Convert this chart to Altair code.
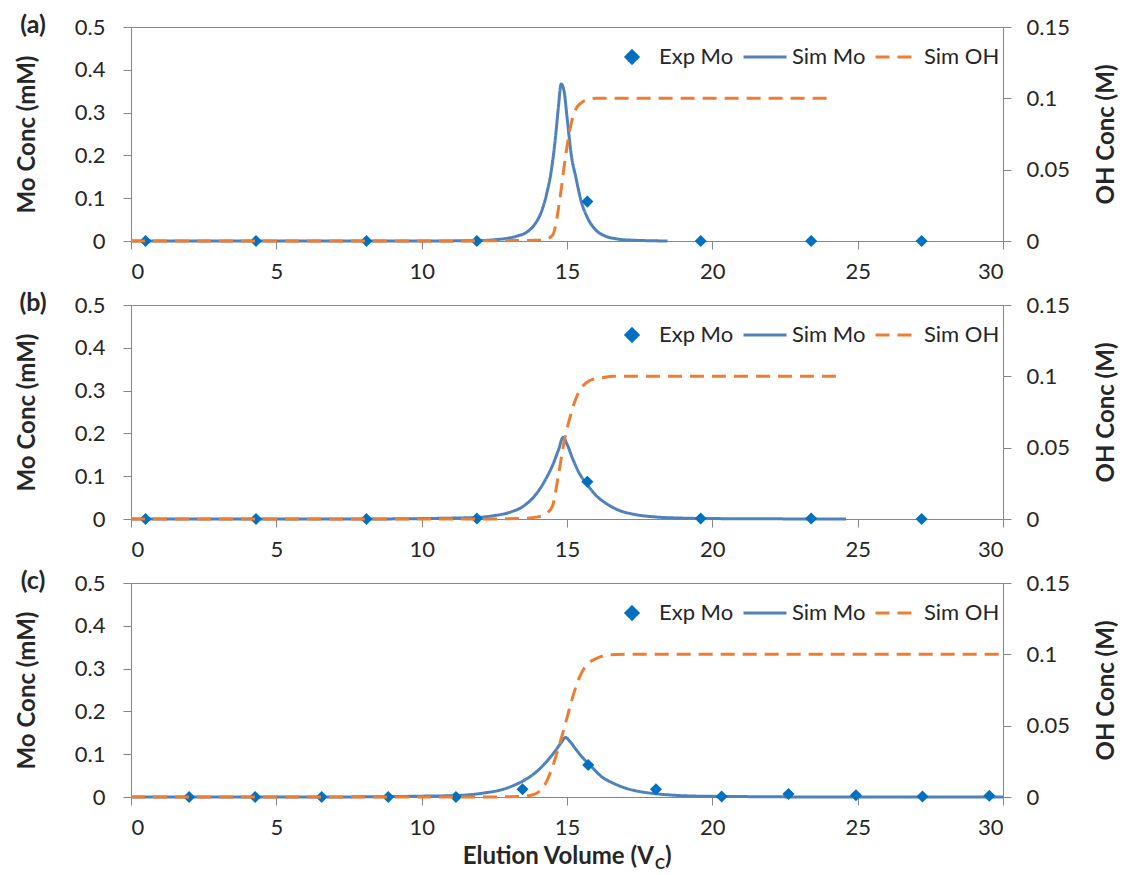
import altair as alt
import pandas as pd

SERIES = ["Exp Mo", "Sim Mo", "Sim OH"]
COLORS = ["#0070C0", "#4F81BD", "#ED7D31"]
DIAMOND = "M-0.28,0L0,-0.28L0.28,0L0,0.28Z"
SHAPES = [DIAMOND, "stroke", "stroke"]
DASHES = [[1, 0], [1, 0], [14, 8]]
X_TICKS = [0, 5, 10, 15, 20, 25, 30]
MO_TICKS = [0, 0.1, 0.2, 0.3, 0.4, 0.5]
OH_TICKS = [0, 0.05, 0.1, 0.15]

# ---------------- Panel (a) ----------------
a_exp_x = [0.5, 4.3, 8.1, 11.9, 15.7, 19.6, 23.4, 27.2]
a_exp_y = [0, 0, 0, 0, 0.092, 0, 0, 0]
a_mo_x = [0, 5, 10, 12, 12.5, 13, 13.3, 13.6, 13.9, 14.1, 14.3, 14.45, 14.6, 14.7,
          14.8, 14.9, 15.0, 15.15, 15.3, 15.5, 15.7, 16.0, 16.3, 16.7, 17.2, 18.46]
a_mo_y = [0, 0, 0, 0.001, 0.003, 0.007, 0.012, 0.02, 0.04, 0.065, 0.11, 0.16, 0.24, 0.31,
          0.367, 0.35, 0.29, 0.2, 0.15, 0.09, 0.055, 0.025, 0.012, 0.005, 0.002, 0.0]
a_oh_x = [0, 10, 14.0, 14.3, 14.5, 14.6, 14.7, 14.8, 14.9, 15.0, 15.1, 15.2, 15.35,
          15.5, 15.7, 16.0, 16.5, 24]
a_oh_y = [0, 0, 0.0005, 0.0015, 0.004, 0.01, 0.022, 0.036, 0.052, 0.066, 0.078, 0.087,
          0.094, 0.097, 0.099, 0.1, 0.1, 0.1]

# ---------------- Panel (b) ----------------
b_exp_x = [0.5, 4.3, 8.1, 11.9, 15.7, 19.6, 23.4, 27.2]
b_exp_y = [0, 0, 0, 0.001, 0.087, 0.001, 0.001, 0]
b_mo_x = [0, 8, 10, 11, 12, 12.5, 13, 13.5, 13.9, 14.2, 14.5, 14.7, 14.87, 15.0, 15.2,
          15.4, 15.7, 16.0, 16.4, 16.8, 17.3, 18, 19, 20, 24.6]
b_mo_y = [0, 0, 0.001, 0.002, 0.004, 0.008, 0.015, 0.03, 0.055, 0.085, 0.125, 0.16, 0.191,
          0.175, 0.14, 0.11, 0.08, 0.055, 0.034, 0.02, 0.011, 0.005, 0.002, 0.001, 0]
b_oh_x = [0, 12, 13.5, 14.0, 14.3, 14.5, 14.7, 14.9, 15.1, 15.3, 15.5, 15.7, 15.9, 16.2,
          16.6, 17, 24.25]
b_oh_y = [0, 0, 0.0005, 0.0015, 0.004, 0.009, 0.03, 0.054, 0.071, 0.084, 0.092, 0.096,
          0.098, 0.099, 0.1, 0.1, 0.1]

# ---------------- Panel (c) ----------------
c_exp_x = [2.0, 4.27, 6.56, 8.85, 11.18, 13.47, 15.73, 18.06, 20.32, 22.62, 24.94, 27.23, 29.53]
c_exp_y = [0, 0, 0, 0, 0, 0.018, 0.075, 0.018, 0.001, 0.007, 0.004, 0.001, 0.003]
c_mo_x = [0, 6, 9, 10, 11, 11.6, 12.2, 12.7, 13.2, 13.6, 14.0, 14.3, 14.6, 14.8, 14.95,
          15.1, 15.3, 15.5, 15.8, 16.2, 16.6, 17.0, 17.4, 18.0, 18.7, 19.5, 21, 24, 30]
c_mo_y = [0, 0, 0.001, 0.002, 0.003, 0.005, 0.01, 0.016, 0.028, 0.042, 0.062, 0.083, 0.108,
          0.127, 0.139, 0.13, 0.112, 0.095, 0.074, 0.047, 0.032, 0.021, 0.014, 0.008, 0.004,
          0.002, 0.001, 0, 0]
c_oh_x = [0, 12, 13.5, 13.9, 14.1, 14.3, 14.5, 14.7, 14.9, 15.1, 15.3, 15.5, 15.7, 16.0,
          16.4, 17, 30]
c_oh_y = [0, 0, 0.0005, 0.002, 0.005, 0.011, 0.021, 0.034, 0.048, 0.063, 0.077, 0.087,
          0.093, 0.097, 0.0995, 0.1, 0.1]

FONT = "Lato"
TXT = "#262626"
AX = "#868686"
W, H = 872, 214
SYM = 1849  # symbol area: 43 px long legend lines


def make_legend():
    return alt.Legend(
        title=None, orient="none", direction="horizontal",
        legendX=478, legendY=19, padding=0, clipHeight=22,
        labelFont=FONT, labelFontSize=22, labelColor=TXT, labelOffset=4,
        columnPadding=8, symbolSize=SYM, symbolStrokeWidth=3, symbolOpacity=1,
    )


color = alt.Color("series:N", scale=alt.Scale(domain=SERIES, range=COLORS), legend=make_legend())
shape = alt.Shape("series:N", scale=alt.Scale(domain=SERIES, range=SHAPES), legend=make_legend())
dash = alt.StrokeDash("series:N", scale=alt.Scale(domain=SERIES, range=DASHES), legend=make_legend())

xaxis = alt.Axis(values=X_TICKS, format="d", title=None, grid=False,
                 labelFont=FONT, labelFontSize=22, labelColor=TXT, labelPadding=12,
                 tickSize=8, tickColor=AX, domainColor=AX)
ylaxis = alt.Axis(values=MO_TICKS, format=".1~f", title="Mo Conc (mM)", grid=False,
                  labelFont=FONT, labelFontSize=22, labelColor=TXT, labelPadding=18,
                  tickSize=8, tickColor=AX, domainColor=AX,
                  titleFont=FONT, titleFontSize=24, titleFontWeight="bold", titleColor=TXT,
                  titlePadding=35)
yraxis = alt.Axis(values=OH_TICKS, format=".2~f", title="OH Conc (M)", grid=False, orient="right",
                  labelFont=FONT, labelFontSize=22, labelColor=TXT, labelPadding=15,
                  tickSize=8, tickColor=AX, domainColor=AX,
                  titleFont=FONT, titleFontSize=24, titleFontWeight="bold", titleColor=TXT,
                  titleAngle=270, titleBaseline="top", titlePadding=25)

xscale = alt.Scale(domain=[0, 30], nice=False)
moscale = alt.Scale(domain=[0, 0.5], nice=False)
ohscale = alt.Scale(domain=[0, 0.15], nice=False)


def panel(label, ex, ey, mx, my, ox, oy, bottom=False):
    exp_df = pd.DataFrame({"x": ex, "y": ey, "series": "Exp Mo"})
    mo_df = pd.DataFrame({"x": mx, "y": my, "series": "Sim Mo"})
    oh_df = pd.DataFrame({"x": ox, "y": oy, "series": "Sim OH"})

    mo_line = alt.Chart(mo_df).mark_line(strokeWidth=3, interpolate="monotone").encode(
        x=alt.X("x:Q", scale=xscale, axis=xaxis),
        y=alt.Y("y:Q", scale=moscale, axis=ylaxis),
        color=color, strokeDash=dash,
    )
    pts = alt.Chart(exp_df).mark_point(filled=True, opacity=1, size=SYM).encode(
        x=alt.X("x:Q", scale=xscale, axis=xaxis),
        y=alt.Y("y:Q", scale=moscale, axis=ylaxis),
        color=color, shape=shape,
    )
    oh_line = alt.Chart(oh_df).mark_line(strokeWidth=3, interpolate="monotone").encode(
        x=alt.X("x:Q", scale=xscale, axis=xaxis),
        y=alt.Y("y:Q", scale=ohscale, axis=yraxis),
        color=color, strokeDash=dash,
    )
    lab = alt.Chart(pd.DataFrame({"t": [label]})).mark_text(
        font=FONT, fontSize=25, fontWeight="bold", color=TXT, align="center", baseline="middle"
    ).encode(x=alt.value(-98), y=alt.value(-2), text="t:N")
    layers = [alt.layer(mo_line, pts), oh_line, lab]
    if bottom:
        tdf = pd.DataFrame({"t": ["Elution Volume (V"], "s": ["C"], "p": [")"]})
        base = alt.Chart(tdf)
        t1 = base.mark_text(font=FONT, fontSize=24, fontWeight="bold", color=TXT,
                            align="right", baseline="middle").encode(
            x=alt.value(523), y=alt.value(274), text="t:N")
        t2 = base.mark_text(font=FONT, fontSize=15, fontWeight="bold", color=TXT,
                            align="left", baseline="middle").encode(
            x=alt.value(524), y=alt.value(281), text="s:N")
        t3 = base.mark_text(font=FONT, fontSize=24, fontWeight="bold", color=TXT,
                            align="left", baseline="middle").encode(
            x=alt.value(534), y=alt.value(274), text="p:N")
        layers += [t1, t2, t3]
    return alt.layer(*layers).resolve_scale(y="independent").properties(width=W, height=H)


chart = alt.vconcat(
    panel("(a)", a_exp_x, a_exp_y, a_mo_x, a_mo_y, a_oh_x, a_oh_y),
    panel("(b)", b_exp_x, b_exp_y, b_mo_x, b_mo_y, b_oh_x, b_oh_y),
    panel("(c)", c_exp_x, c_exp_y, c_mo_x, c_mo_y, c_oh_x, c_oh_y, bottom=True),
    spacing=64, bounds="flush",
).resolve_legend(
    color="independent", shape="independent", strokeDash="independent"
).properties(
    padding={"left": 14, "top": 12, "right": 2, "bottom": 5},
    background="white",
).configure_view(stroke=AX, strokeWidth=1)

chart.save("out.html", embed_options={"renderer": "svg", "actions": False})
